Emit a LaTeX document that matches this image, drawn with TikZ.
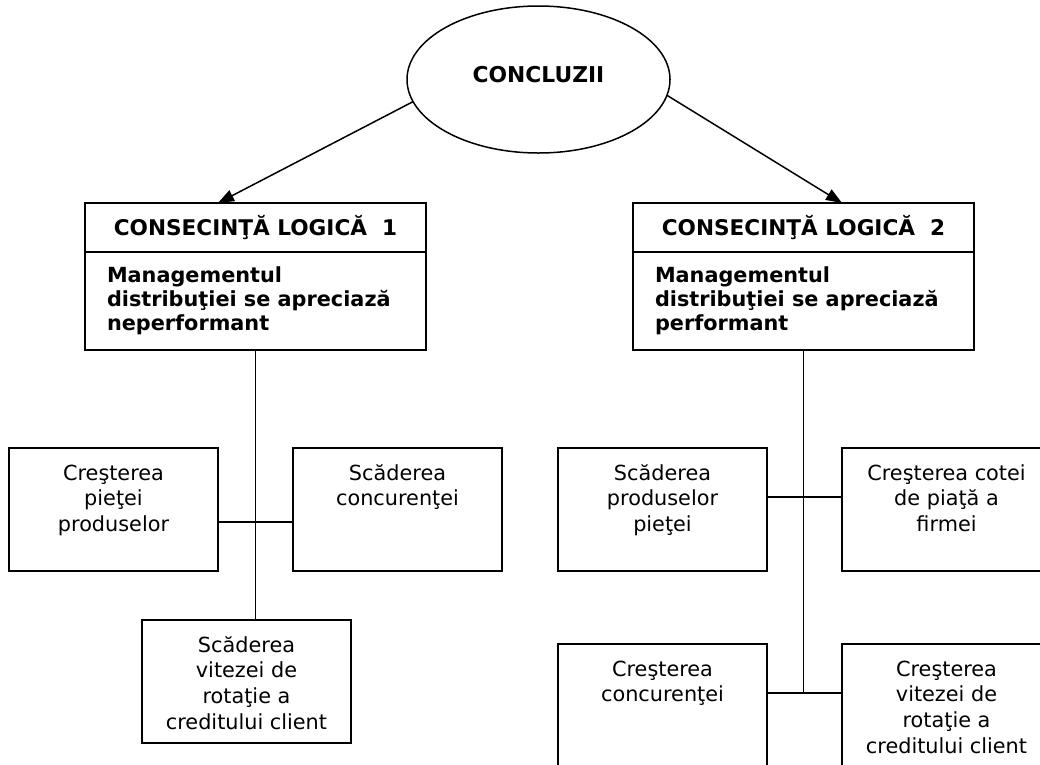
\documentclass[tikz,border=0pt]{standalone}
\usepackage{fontspec}
\setmainfont{DejaVu Sans}
\usetikzlibrary{shapes.geometric,arrows.meta,calc}

% text of the small boxes: centred, hung from the top edge
\newcommand{\leaftext}[1]{\parbox[c][123pt][t]{209pt}{\centering\fontsize{20.8}{25.7}\selectfont\rule{0pt}{32pt}#1\par}}
% bold body of the two main boxes: left aligned, hung from the top edge
\newcommand{\bodytext}[1]{\parbox[c][98pt][t]{341pt}{\raggedright\leftskip=22pt\fontsize{20.8}{24}\selectfont\bfseries\rule{0pt}{30pt}#1\par}}

\begin{document}
\begin{tikzpicture}[x=1pt,y=1pt,
  every node/.style={outer sep=0pt},
  oval/.style={draw,ellipse,line width=1.5pt,minimum width=263pt,minimum height=147pt,inner sep=0pt,
    font=\fontsize{21.8}{24}\selectfont\bfseries,text height=15pt,text depth=10pt},
  headbox/.style={draw,rectangle,line width=1.8pt,minimum width=341pt,minimum height=49pt,inner sep=0pt,
    font=\fontsize{21.6}{24}\selectfont\bfseries,text height=16pt,text depth=1pt},
  bodybox/.style={draw,rectangle,line width=1.8pt,inner sep=0pt},
  leafbox/.style={draw,rectangle,line width=1.8pt,inner sep=0pt,anchor=north west},
  link/.style={line width=1.6pt},
  arrowlink/.style={line width=1.5pt,-{Triangle[length=16pt,width=12pt]}}]

\useasboundingbox (0,0) rectangle (1040,-764);
\clip (0,0) rectangle (1040,-764);

% top node
\node[oval] (concl) at (538.5,-79.5) {CONCLUZII};

% the two main boxes: header row and body
\node[headbox,anchor=north west] (h1) at (85,-203) {CONSECINŢĂ LOGICĂ~~1};
\node[bodybox,anchor=north] (b1) at (h1.south) {\bodytext{Managementul\\distribuţiei se apreciază\\neperformant}};
\node[headbox,anchor=north west] (h2) at (633,-203) {CONSECINŢĂ LOGICĂ~~2};
\node[bodybox,anchor=north] (b2) at (h2.south) {\bodytext{Managementul\\distribuţiei se apreciază\\performant}};

% left branch
\node[leafbox] (l1) at (9,-448) {\leaftext{Creşterea\\pieţei\\produselor}};
\node[leafbox] (l2) at (293,-448) {\leaftext{Scăderea\\concurenţei}};
\node[leafbox] (l3) at (142,-620) {\leaftext{Scăderea\\vitezei de\\rotaţie a\\creditului client}};

% right branch
\node[leafbox] (r1) at (558,-448) {\leaftext{Scăderea\\produselor\\pieţei}};
\node[leafbox] (r2) at (842,-448) {\leaftext{Creşterea cotei\\de piaţă a\\firmei}};
\node[leafbox] (r3) at (558,-644) {\leaftext{Creşterea\\concurenţei}};
\node[leafbox] (r4) at (842,-644) {\leaftext{Creşterea\\vitezei de\\rotaţie a\\creditului client}};

% arrows from the conclusion to the two consequences
\draw[arrowlink] (concl.190.6) -- ($(h1.north)+(-37.5,0)$);
\draw[arrowlink] (concl.353.2) -- ($(h2.north)+(38.5,0)$);

% left tree
\coordinate (jl) at ($(b1.south)+(0,-172)$);
\draw[link] (b1.south) -- (b1.south |- l3.north);
\draw[link] (l1.east |- jl) -- (l2.west |- jl);

% right tree
\coordinate (jr1) at ($(b2.south)+(0,-147)$);
\coordinate (jr2) at ($(b2.south)+(0,-343)$);
\draw[link] (b2.south) -- (jr2);
\draw[link] (r1.east |- jr1) -- (r2.west |- jr1);
\draw[link] (r3.east |- jr2) -- (r4.west |- jr2);
\end{tikzpicture}
\end{document}
